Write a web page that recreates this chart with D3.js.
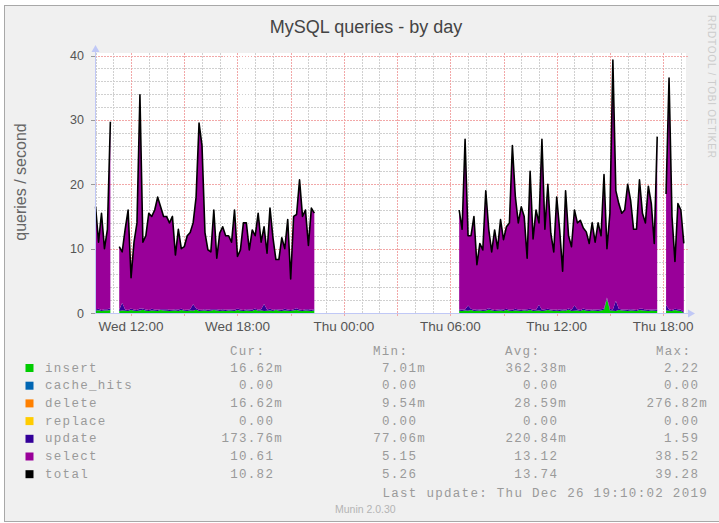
<!DOCTYPE html>
<html>
<head>
<meta charset="utf-8">
<script src="https://cdn.jsdelivr.net/npm/d3@7"></script>
<style>
body { margin: 0; background: #fff; }
svg { display: block; }
</style>
</head>
<body>
<svg id="chart" width="719" height="523"></svg>
<script>
// samples every 10 minutes from Wed 25 Dec 10:00, null = no data
var sampleStart = new Date(2019, 11, 25, 10, 0);
var stepMinutes = 10;

var totalQ = [
  16.5, 11, 15.5, 10, 13, 29.7,
  null, null,
  10.3, 9.5, 13, 16, 5.5, 11, 14, 33.9, 11, 12, 15.5, 15, 16, 18, 16.5, 15, 15,
  14, 15, 9, 13, 10, 10.3, 12, 12.5, 14, 18, 29.5, 26, 12.5, 9.8, 9.5, 16, 8.5, 12.4, 13.4, 12, 12, 11, 16, 8.8, 9.8,
  14, 14, 9.8, 12.9, 12, 15.5, 11, 13.4, 9.3, 16.3, 11.7, 8.3, 8.3, 11.7, 10, 14.5, 5.3, 15, 15.3, 20.7, 15, 16, 10.5, 16.3, 15.5,
  null,null,null,null,null,null,null,null,null,null,null,null,null,null,null,null,null,null,null,null,null,null,null,null,
  null,null,null,null,null,null,null,null,null,null,null,null,null,null,null,null,null,null,null,null,null,null,null,null,
  16, 13, 27, 12, 12, 15, 7.5, 10.8, 9.8, 19, 13, 9.5, 12.9, 10, 14.5, 11.4, 13.4, 14, 26, 18.1, 14, 16.5, 15, 8.5, 22,
  11.5, 16, 14, 27, 13, 20, 12.4, 9.5, 18, 12.9, 6.5, 19, 12, 10.3, 16, 14, 14.4, 13.2, 12.6, 10.8, 14, 11, 14, 12, 21.5,
  10, 15.5, 39.28, 19, 17, 15.5, 16, 20, 17.5, 13, 13, 20.7, 15.5, 14, 19.7, 17, 10.8, 27.4,
  null, null,
  18.5, 36.5, 15, 8, 17, 16, 10.82
];

var insertQ = [
  0.35, 0.42, 0.3, 0.38, 0.4, 0.45,
  null, null,
  0.3, 0.4, 0.35, 0.3, 0.45, 0.35, 0.3, 0.4, 0.5, 0.35, 0.3, 0.4, 0.35, 0.3, 0.45, 0.4, 0.35,
  0.3, 0.35, 0.4, 0.3, 0.45, 0.35, 0.3, 0.4, 0.35, 0.5, 0.3, 0.35, 0.4, 0.3, 0.35, 0.45, 0.4, 0.3, 0.35, 0.3, 0.4, 0.35, 0.3, 0.45, 0.35,
  0.3, 0.4, 0.35, 0.3, 0.5, 0.35, 0.4, 0.3, 0.35, 0.4, 0.3, 0.45, 0.35, 0.3, 0.4, 0.35, 0.3, 0.4, 0.45, 0.35, 0.3, 0.4, 0.35, 0.3, 0.4,
  null,null,null,null,null,null,null,null,null,null,null,null,null,null,null,null,null,null,null,null,null,null,null,null,
  null,null,null,null,null,null,null,null,null,null,null,null,null,null,null,null,null,null,null,null,null,null,null,null,
  0.35, 0.3, 0.4, 0.35, 0.45, 0.3, 0.35, 0.4, 0.3, 0.35, 0.5, 0.4, 0.3, 0.35, 0.4, 0.3, 0.45, 0.35, 0.3, 0.4, 0.35, 0.3, 0.4, 0.35, 0.45,
  0.3, 0.35, 0.4, 0.3, 0.35, 0.45, 0.4, 0.3, 0.35, 0.3, 0.4, 0.35, 0.5, 0.3, 0.35, 0.4, 0.3, 0.45, 0.35, 0.3, 0.4, 0.35, 0.3, 0.4, 0.5,
  2.22, 0.4, 0.35, 0.3, 0.45, 0.4, 0.35, 0.3, 0.4, 0.35, 0.3, 0.45, 0.4, 0.35, 0.3, 0.4, 0.35, 0.3,
  null, null,
  0.4, 0.35, 0.3, 0.45, 0.35, 0.3, 0.02
];

var updateQ = [
  0.2, 0.25, 0.15, 0.2, 0.2, 0.3,
  null, null,
  0.2, 1.2, 0.2, 0.15, 0.25, 0.2, 0.15, 0.3, 0.2, 0.2, 0.15, 0.25, 0.2, 0.2, 0.15, 0.2, 0.25,
  0.2, 0.15, 0.2, 0.25, 0.2, 0.15, 0.2, 0.2, 1.0, 0.25, 0.2, 0.15, 0.2, 0.2, 0.25, 0.15, 0.2, 0.2, 0.25, 0.2, 0.15, 0.2, 0.2, 0.25, 0.2,
  0.15, 0.2, 0.2, 0.25, 0.2, 0.15, 0.2, 1.1, 0.2, 0.25, 0.2, 0.15, 0.2, 0.2, 0.25, 0.2, 0.15, 0.2, 0.3, 0.2, 0.15, 0.2, 0.25, 0.2, 0.2,
  null,null,null,null,null,null,null,null,null,null,null,null,null,null,null,null,null,null,null,null,null,null,null,null,
  null,null,null,null,null,null,null,null,null,null,null,null,null,null,null,null,null,null,null,null,null,null,null,null,
  0.2, 0.25, 0.15, 0.8, 0.2, 0.2, 0.25, 0.15, 0.2, 0.2, 0.25, 0.2, 0.15, 0.2, 0.2, 0.25, 0.2, 0.15, 0.2, 0.25, 0.2, 0.2, 0.15, 0.25, 0.2,
  0.2, 0.15, 0.9, 0.2, 0.25, 0.2, 0.15, 0.2, 0.2, 0.25, 0.2, 0.15, 0.2, 0.2, 0.8, 0.2, 0.15, 0.25, 0.2, 0.2, 0.15, 0.2, 0.25, 0.2, 0.2,
  0.2, 0.25, 0.2, 1.59, 0.2, 0.15, 0.2, 0.25, 0.2, 0.2, 0.15, 0.2, 0.25, 0.2, 0.2, 0.15, 0.2, 0.25,
  null, null,
  0.9, 0.2, 0.15, 0.2, 0.25, 0.2, 0.17
];

var legendNames  = ["insert", "cache_hits", "delete", "replace", "update", "select", "total"];
var legendColors = ["#00CC00", "#0066B3", "#FF8000", "#FFCC00", "#330099", "#990099", "#000000"];
var curVals = ["16.62m", "0.00", "16.62m", "0.00", "173.76m", "10.61", "10.82"];
var minVals = ["7.01m", "0.00", "9.54m", "0.00", "77.06m", "5.15", "5.26"];
var avgVals = ["362.38m", "0.00", "28.59m", "0.00", "220.84m", "13.12", "13.74"];
var maxVals = ["2.22", "0.00", "276.82m", "0.00", "1.59", "38.52", "39.28"];
var yTicks = [0, 10, 20, 30, 40];

var svg = d3.select("#chart");

// frame
svg.append("rect").attr("x", 4.5).attr("y", 5.5).attr("width", 730).attr("height", 516)
  .attr("fill", "#F0F0F0").attr("stroke", "#a8a8a8");

var plotLeft = 95, plotRight = 686, plotTop = 55.5, plotBottom = 313;

var x = d3.scaleTime()
  .domain([new Date(2019, 11, 25, 9, 58), new Date(2019, 11, 26, 19, 14)])
  .range([95, 685]);
var y = d3.scaleLinear().domain([0, 40]).range([plotBottom, plotTop]);

svg.append("rect").attr("x", plotLeft).attr("y", 53).attr("width", plotRight - plotLeft).attr("height", plotBottom - 53)
  .attr("fill", "#fff");

// grid
var hours = d3.timeHour.range(x.domain()[0], x.domain()[1]);
var minorY = d3.range(2, 40, 2).filter(function(v){ return v % 10 != 0; });
var g = svg.append("g").attr("shape-rendering", "crispEdges");

g.selectAll(".hmin").data(minorY).enter().append("line")
  .attr("x1", plotLeft).attr("x2", plotRight)
  .attr("y1", function(d){ return Math.round(y(d)) + 0.5; })
  .attr("y2", function(d){ return Math.round(y(d)) + 0.5; })
  .attr("stroke", "#d0d0d0").attr("stroke-dasharray", "1.5,1.5");

g.selectAll(".vmin").data(hours.filter(function(h){ return h.getHours() % 3 != 0; })).enter().append("line")
  .attr("x1", function(d){ return Math.round(x(d)) + 0.5; })
  .attr("x2", function(d){ return Math.round(x(d)) + 0.5; })
  .attr("y1", 53).attr("y2", plotBottom)
  .attr("stroke", "#d0d0d0").attr("stroke-dasharray", "1.5,1.5");

g.selectAll(".hmaj").data(yTicks.slice(1)).enter().append("line")
  .attr("x1", plotLeft).attr("x2", plotRight + 2)
  .attr("y1", function(d){ return Math.round(y(d)) + 0.5; })
  .attr("y2", function(d){ return Math.round(y(d)) + 0.5; })
  .attr("stroke", "#f2a8a8").attr("stroke-dasharray", "1.5,1.5");

g.selectAll(".vmaj").data(hours.filter(function(h){ return h.getHours() % 3 == 0; })).enter().append("line")
  .attr("x1", function(d){ return Math.round(x(d)) + 0.5; })
  .attr("x2", function(d){ return Math.round(x(d)) + 0.5; })
  .attr("y1", 53).attr("y2", plotBottom)
  .attr("stroke", "#f2a8a8").attr("stroke-dasharray", "1.5,1.5");

// ticks outside the canvas
g.selectAll(".ytick").data(yTicks).enter().append("line")
  .attr("x1", 91).attr("x2", plotLeft)
  .attr("y1", function(d){ return Math.round(y(d)) + 0.5; })
  .attr("y2", function(d){ return Math.round(y(d)) + 0.5; })
  .attr("stroke", "#999");
g.selectAll(".xtick").data(hours.filter(function(h){ return h.getHours() % 3 == 0; })).enter().append("line")
  .attr("x1", function(d){ return Math.round(x(d)) + 0.5; })
  .attr("x2", function(d){ return Math.round(x(d)) + 0.5; })
  .attr("y1", plotBottom).attr("y2", plotBottom + 3)
  .attr("stroke", "#f2a8a8");

// stacked areas
var rows = totalQ.map(function(v, i){
  return { t: d3.timeMinute.offset(sampleStart, i * stepMinutes), total: v, ins: insertQ[i], upd: updateQ[i] };
});
var has = function(d){ return d.total != null; };

function band(lo, hi, color){
  svg.append("path").datum(rows)
    .attr("fill", color)
    .attr("d", d3.area().defined(has)
      .x(function(d){ return x(d.t); })
      .y0(function(d){ return y(lo(d)); })
      .y1(function(d){ return y(hi(d)); }));
}
band(function(d){ return 0; }, function(d){ return d.ins; }, legendColors[0]);
band(function(d){ return d.ins; }, function(d){ return d.ins + d.upd; }, legendColors[4]);
band(function(d){ return d.ins + d.upd; }, function(d){ return d.total; }, legendColors[5]);

svg.append("path").datum(rows)
  .attr("fill", "none").attr("stroke", "#000").attr("stroke-width", 1.6)
  .attr("stroke-linejoin", "round")
  .attr("d", d3.line().defined(has)
    .x(function(d){ return x(d.t); })
    .y(function(d){ return y(d.total); }));

// axes with arrows
var axisColor = "#c0c8f6";
svg.append("line").attr("x1", plotLeft + 0.5).attr("x2", plotLeft + 0.5).attr("y1", plotBottom).attr("y2", 50)
  .attr("stroke", axisColor);
svg.append("line").attr("x1", plotLeft).attr("x2", 689).attr("y1", plotBottom + 0.5).attr("y2", plotBottom + 0.5)
  .attr("stroke", axisColor);
svg.append("path").attr("d", "M91.5,52 L95.5,45 L99.5,52 Z").attr("fill", axisColor);
svg.append("path").attr("d", "M688,309.5 L695,313.5 L688,317.5 Z").attr("fill", axisColor);

// axis labels
svg.selectAll(".ylab").data(yTicks).enter().append("text")
  .attr("x", 84).attr("y", function(d){ return y(d) + 4.5; })
  .attr("text-anchor", "end")
  .style("font", "12.5px 'Liberation Sans', Arial, sans-serif").attr("fill", "#555")
  .text(function(d){ return d; });

var fmt = d3.timeFormat("%a %H:%M");
svg.selectAll(".xlab").data(hours.filter(function(h){ return h.getHours() % 6 == 0; })).enter().append("text")
  .attr("x", function(d){ return x(d); }).attr("y", 331)
  .attr("text-anchor", "middle")
  .style("font", "13.5px 'Liberation Sans', Arial, sans-serif").attr("fill", "#555")
  .text(function(d){ return fmt(d); });

svg.append("text").attr("x", 366).attr("y", 33).attr("text-anchor", "middle")
  .style("font", "18px 'Liberation Sans', Arial, sans-serif").attr("fill", "#444")
  .text("MySQL queries - by day");

svg.append("text").attr("transform", "translate(26,182) rotate(-90)").attr("text-anchor", "middle")
  .style("font", "16px 'Liberation Sans', Arial, sans-serif").attr("fill", "#666")
  .text("queries / second");

svg.append("text").attr("transform", "translate(708,15) rotate(90)")
  .style("font", "10px 'Liberation Sans', Arial, sans-serif").attr("fill", "#cccccc")
  .attr("textLength", 143).attr("lengthAdjust", "spacing")
  .text("RRDTOOL / TOBI OETIKER");

// legend
var charW = 8.8;
var mono = "12.5px 'Liberation Mono', 'Courier New', monospace";
var legendColor = "#9a9a9a";
var rowY = 371.5, rowStep = 17.7;

function monoText(str, xr, yy){
  // right edge xr, numbers without unit get a blank unit slot
  var n = /[a-z]$/.test(str) ? str.length : str.length + 1;
  svg.append("text").attr("x", xr - n * charW).attr("y", yy)
    .style("font", mono).style("letter-spacing", "1.3px").attr("fill", legendColor)
    .text(str);
}

[["Cur:", 230], ["Min:", 373], ["Avg:", 505], ["Max:", 656]].forEach(function(h){
  svg.append("text").attr("x", h[1]).attr("y", 354.5)
    .style("font", mono).style("letter-spacing", "1.3px").attr("fill", legendColor)
    .text(h[0]);
});

legendNames.forEach(function(name, i){
  var yy = rowY + i * rowStep;
  svg.append("rect").attr("x", 25.5).attr("y", yy - 7.5).attr("width", 8).attr("height", 8)
    .attr("fill", legendColors[i]);
  svg.append("text").attr("x", 45).attr("y", yy)
    .style("font", mono).style("letter-spacing", "1.3px").attr("fill", legendColor)
    .text(name);
  monoText(curVals[i], 283, yy);
  monoText(minVals[i], 426, yy);
  monoText(avgVals[i], 567, yy);
  monoText(maxVals[i], 708, yy);
});

var lastUpd = "Last update: Thu Dec 26 19:10:02 2019";
svg.append("text").attr("x", 708 - lastUpd.length * charW).attr("y", 497)
  .style("font", mono).style("letter-spacing", "1.3px").attr("fill", legendColor)
  .text(lastUpd);

svg.append("text").attr("x", 335).attr("y", 512.5)
  .style("font", "10.5px 'Liberation Sans', Arial, sans-serif").attr("fill", "#b4b4b4")
  .text("Munin 2.0.30");
</script>
</body>
</html>
